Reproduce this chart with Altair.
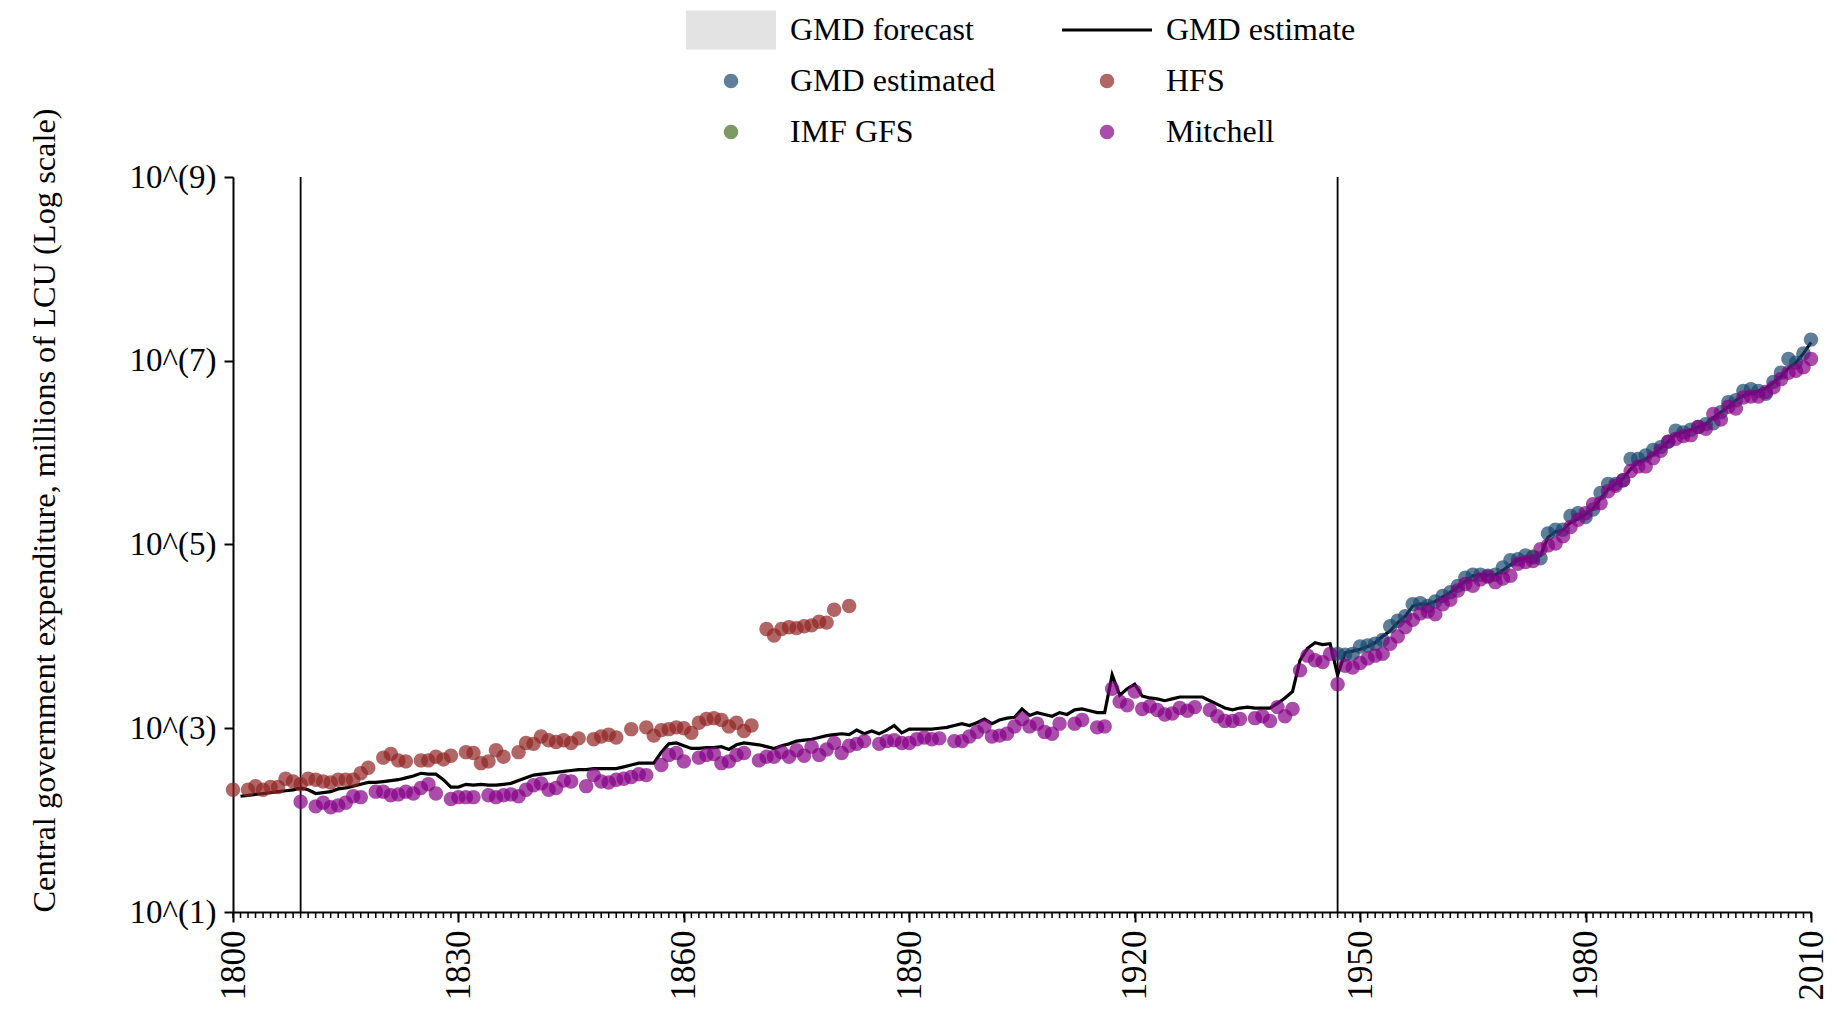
import altair as alt
import pandas as pd

# ---------------- data (log10 of millions of LCU) ----------------
est_years = list(range(1801, 2011))
est_log10 = [
    2.26, 2.27, 2.28, 2.29, 2.30, 2.31, 2.32, 2.33, 2.35, 2.33,   # 1801-1810
    2.29, 2.30, 2.31, 2.34, 2.35, 2.37, 2.39, 2.41, 2.41, 2.42,   # 1811-1820
    2.43, 2.44, 2.46, 2.48, 2.51, 2.50, 2.50, 2.44, 2.36, 2.36,   # 1821-1830
    2.39, 2.38, 2.39, 2.38, 2.38, 2.39, 2.40, 2.43, 2.46, 2.49,   # 1831-1840
    2.50, 2.51, 2.52, 2.53, 2.54, 2.55, 2.55, 2.56, 2.56, 2.56,   # 1841-1850
    2.56, 2.58, 2.60, 2.62, 2.62, 2.62, 2.74, 2.83, 2.84, 2.81,   # 1851-1860
    2.78, 2.78, 2.79, 2.79, 2.80, 2.77, 2.82, 2.84, 2.83, 2.82,   # 1861-1870
    2.80, 2.78, 2.81, 2.83, 2.86, 2.87, 2.88, 2.90, 2.92, 2.93,   # 1871-1880
    2.94, 2.93, 2.98, 2.94, 2.97, 2.94, 2.98, 3.03, 2.95, 2.99,   # 1881-1890
    2.99, 2.99, 2.99, 3.00, 3.01, 3.03, 3.05, 3.03, 3.06, 3.10,   # 1891-1900
    3.05, 3.09, 3.11, 3.12, 3.21, 3.14, 3.17, 3.15, 3.13, 3.17,   # 1901-1910
    3.15, 3.20, 3.21, 3.19, 3.17, 3.17, 3.58, 3.36, 3.43, 3.48,   # 1911-1920
    3.35, 3.33, 3.32, 3.30, 3.32, 3.34, 3.34, 3.34, 3.34, 3.30,   # 1921-1930
    3.26, 3.22, 3.20, 3.22, 3.23, 3.22, 3.22, 3.22, 3.27, 3.33,   # 1931-1940
    3.40, 3.74, 3.87, 3.93, 3.91, 3.92, 3.58, 3.82, 3.84, 3.86,   # 1941-1950
    3.89, 3.93, 4.00, 4.06, 4.15, 4.22, 4.33, 4.35, 4.35, 4.38,   # 1951-1960
    4.43, 4.48, 4.54, 4.60, 4.66, 4.67, 4.67, 4.67, 4.72, 4.78,   # 1961-1970
    4.83, 4.85, 4.86, 4.88, 5.08, 5.14, 5.16, 5.24, 5.28, 5.33,   # 1971-1980
    5.39, 5.50, 5.60, 5.66, 5.72, 5.82, 5.90, 5.93, 5.98, 6.05,   # 1981-1990
    6.12, 6.20, 6.22, 6.25, 6.28, 6.31, 6.38, 6.44, 6.50, 6.57,   # 1991-2000
    6.62, 6.65, 6.67, 6.70, 6.76, 6.83, 6.92, 6.98, 7.08, 7.20,   # 2001-2010
]

hfs_years = [
    1800, 1802, 1803, 1804, 1805, 1806, 1807, 1808, 1809, 1810,
    1811, 1812, 1813, 1814, 1815, 1816, 1817, 1818, 1820, 1821,
    1822, 1823, 1825, 1826, 1827, 1828, 1829, 1831, 1832, 1833,
    1834, 1835, 1836, 1838, 1839, 1840, 1841, 1842, 1843, 1844,
    1845, 1846, 1848, 1849, 1850, 1851, 1853, 1855, 1856, 1857,
    1858, 1859, 1860, 1861, 1862, 1863, 1864, 1865, 1866, 1867,
    1868, 1869,
    1871, 1872, 1873, 1874, 1875, 1876, 1877, 1878, 1879, 1880, 1882,
]
hfs_log10 = [
    2.33, 2.33, 2.37, 2.33, 2.36, 2.36, 2.45, 2.42, 2.39, 2.45,
    2.44, 2.42, 2.41, 2.44, 2.44, 2.44, 2.51, 2.57, 2.68, 2.72,
    2.65, 2.64, 2.65, 2.65, 2.69, 2.66, 2.70, 2.74, 2.73, 2.62,
    2.64, 2.76, 2.69, 2.74, 2.84, 2.83, 2.91, 2.87, 2.85, 2.87,
    2.84, 2.89, 2.88, 2.91, 2.93, 2.90, 2.99, 3.01, 2.92, 2.98,
    2.99, 3.01, 3.00, 2.95, 3.06, 3.10, 3.11, 3.09, 3.02, 3.06,
    2.97, 3.03,
    4.08, 4.01, 4.08, 4.10, 4.09, 4.11, 4.12, 4.16, 4.15, 4.29, 4.33,
]

mitchell_years = [
    1809, 1811, 1812, 1813, 1814, 1815, 1816, 1817, 1819, 1820,
    1821, 1822, 1823, 1824, 1825, 1826, 1827, 1829, 1830, 1831,
    1832, 1834, 1835, 1836, 1837, 1838, 1839, 1840, 1841, 1842,
    1843, 1844, 1845, 1847, 1848, 1849, 1850, 1851, 1852, 1853,
    1854, 1855, 1857, 1858, 1859, 1860, 1862, 1863, 1864, 1865,
    1866, 1867, 1868, 1870, 1871, 1872, 1873, 1874, 1875, 1876,
    1877, 1878, 1879, 1880, 1881, 1882, 1883, 1884, 1886, 1887,
    1888, 1889, 1890, 1891, 1892, 1893, 1894, 1896, 1897, 1898,
    1899, 1900, 1901, 1902, 1903, 1904, 1905, 1906, 1907, 1908,
    1909, 1910, 1912, 1913, 1915, 1916, 1917, 1918, 1919, 1920,
    1921, 1922, 1923, 1924, 1925, 1926, 1927, 1928, 1930, 1931,
    1932, 1933, 1934, 1936, 1937, 1938, 1939, 1940, 1941, 1942,
    1943, 1944, 1945, 1946, 1947, 1948, 1949, 1950,
] + list(range(1951, 2011))
mitchell_log10 = [
    2.20, 2.15, 2.19, 2.14, 2.16, 2.19, 2.26, 2.25, 2.31, 2.31,
    2.27, 2.28, 2.31, 2.29, 2.35, 2.39, 2.29, 2.23, 2.25, 2.25,
    2.25, 2.27, 2.25, 2.27, 2.28, 2.26, 2.33, 2.38, 2.40, 2.33,
    2.35, 2.43, 2.42, 2.37, 2.49, 2.42, 2.41, 2.44, 2.45, 2.47,
    2.50, 2.49, 2.60, 2.71, 2.73, 2.64, 2.68, 2.71, 2.72, 2.62,
    2.64, 2.71, 2.73, 2.65, 2.69, 2.69, 2.74, 2.69, 2.76, 2.70,
    2.80, 2.71, 2.77, 2.84, 2.73, 2.81, 2.83, 2.86, 2.83, 2.86,
    2.87, 2.84, 2.84, 2.88, 2.90, 2.88, 2.89, 2.86, 2.86, 2.91,
    2.96, 3.02, 2.91, 2.92, 2.94, 3.02, 3.10, 3.02, 3.05, 2.96,
    2.94, 3.05, 3.05, 3.09, 3.01, 3.02, 3.43, 3.29, 3.25, 3.40,
    3.21, 3.24, 3.20, 3.15, 3.16, 3.22, 3.19, 3.23, 3.20, 3.13,
    3.08, 3.08, 3.10, 3.11, 3.13, 3.08, 3.23, 3.13, 3.21, 3.63,
    3.79, 3.74, 3.72, 3.81, 3.48, 3.68, 3.66, 3.71,
    3.76, 3.79, 3.81, 3.92, 4.00, 4.10, 4.18, 4.25, 4.27, 4.24,   # 1951-1960
    4.35, 4.40, 4.50, 4.57, 4.55, 4.62, 4.65, 4.59, 4.63, 4.66,   # 1961-1970
    4.79, 4.81, 4.82, 4.95, 4.99, 5.01, 5.09, 5.19, 5.27, 5.34,   # 1971-1980
    5.44, 5.45, 5.58, 5.64, 5.70, 5.80, 5.85, 5.85, 5.94, 6.02,   # 1981-1990
    6.12, 6.15, 6.18, 6.19, 6.28, 6.26, 6.42, 6.36, 6.50, 6.48,   # 1991-2000
    6.60, 6.61, 6.61, 6.66, 6.71, 6.80, 6.87, 6.89, 6.93, 7.02,   # 2001-2010
]

gmd_years = list(range(1947, 2011))
gmd_log10 = [
    3.81, 3.80, 3.81, 3.89, 3.90, 3.92, 3.96, 4.11, 4.17, 4.22,   # 1947-1956
    4.35, 4.36, 4.33, 4.38, 4.44, 4.48, 4.55, 4.64, 4.67, 4.67,   # 1957-1966
    4.66, 4.67, 4.75, 4.83, 4.84, 4.88, 4.86, 4.85, 5.12, 5.16,   # 1967-1976
    5.16, 5.31, 5.34, 5.30, 5.38, 5.56, 5.66, 5.66, 5.70, 5.93,   # 1977-1986
    5.93, 5.97, 6.03, 6.06, 6.12, 6.24, 6.22, 6.25, 6.28, 6.31,   # 1987-1996
    6.32, 6.44, 6.55, 6.57, 6.67, 6.69, 6.67, 6.64, 6.77, 6.87,   # 1997-2006
    7.02, 6.98, 7.08, 7.23,                                       # 2007-2010
]

imf_years = [1973]
imf_log10 = [4.87]

ref_years = [1809, 1947]
x_tick_values = [1800, 1830, 1860, 1890, 1920, 1950, 1980, 2010]
y_tick_values = [1e1, 1e3, 1e5, 1e7, 1e9]
minor_tick_years = list(range(1800, 2011))

# legend entries, in the column-major order the legend fills them
legend_labels = ["GMD forecast", "GMD estimated", "IMF GFS", "GMD estimate", "HFS", "Mitchell"]
legend_colors = [
    "#e3e3e3",
    "rgba(26,71,111,0.7)",
    "rgba(69,112,34,0.7)",
    "#000000",
    "rgba(144,36,36,0.7)",
    "rgba(134,0,134,0.7)",
]
# circle drawn with cubic curves (radius 0.16 of the symbol half-size)
circle_path = (
    "M-0.16,0C-0.16,-0.0884,-0.0884,-0.16,0,-0.16"
    "C0.0884,-0.16,0.16,-0.0884,0.16,0"
    "C0.16,0.0884,0.0884,0.16,0,0.16"
    "C-0.0884,0.16,-0.16,0.0884,-0.16,0Z"
)
legend_shapes = [
    "M-1,-0.433H1V0.433H-1Z",
    circle_path,
    circle_path,
    "M-1,-0.034H1V0.034H-1Z",
    circle_path,
    circle_path,
]

# ---------------- tables ----------------
def frame(years, logs, name):
    return pd.DataFrame({"year": years, "value": [10 ** v for v in logs], "series": name})

line_df = frame(est_years, est_log10, "GMD estimate")
points_df = pd.concat([
    frame(imf_years, imf_log10, "IMF GFS"),
    frame(gmd_years, gmd_log10, "GMD estimated"),
    frame(hfs_years, hfs_log10, "HFS"),
    frame(mitchell_years, mitchell_log10, "Mitchell"),
], ignore_index=True)
ref_df = pd.DataFrame({"year": ref_years})
minor_df = pd.DataFrame({"year": minor_tick_years})

W, H = 1578, 735
FONT = "Liberation Serif"

x_enc = alt.X(
    "year:Q",
    scale=alt.Scale(domain=[1800, 2010], nice=False, zero=False),
    axis=alt.Axis(
        values=x_tick_values, format="d", title=None, labelAngle=270,
        labelFontSize=35, tickSize=10, labelPadding=8, grid=False,
    ),
)
y_scale = alt.Scale(type="log", domain=[1e1, 1e9], nice=False)
y_axis = alt.Axis(
    values=y_tick_values,
    labelExpr="'10^(' + round(log(datum.value) / LN10) + ')'",
    title="Central government expenditure, millions of LCU (Log scale)",
    titleAnchor="start", titleFontSize=32.4, titleFontWeight="normal",
    titlePadding=68, labelFontSize=33, tickSize=9, labelPadding=8, grid=False,
)

leg = alt.Legend(
    title=None, orient="none", legendX=453, legendY=-167, columns=2,
    columnPadding=66, rowPadding=11, clipHeight=40, labelFont=FONT, labelFontSize=32,
    labelOffset=14, labelLimit=500, symbolSize=8100, symbolStrokeWidth=0,
    labelColor="black",
)

minor_ticks = alt.Chart(minor_df).mark_rule(color="black", strokeWidth=1.5).encode(
    x=x_enc, y=alt.value(H), y2=alt.value(H + 6)
)
ref_rules = alt.Chart(ref_df).mark_rule(color="black", strokeWidth=1.8).encode(
    x=x_enc, y=alt.value(0), y2=alt.value(H)
)
line = alt.Chart(line_df).mark_line(color="black", strokeWidth=3.2).encode(
    x=x_enc, y=alt.Y("value:Q", scale=y_scale, axis=y_axis)
)
points = alt.Chart(points_df).mark_point(filled=True, size=8100, strokeWidth=0, opacity=1).encode(
    x=x_enc,
    y=alt.Y("value:Q", scale=y_scale, axis=y_axis),
    color=alt.Color("series:N", scale=alt.Scale(domain=legend_labels, range=legend_colors), legend=leg),
    shape=alt.Shape("series:N", scale=alt.Scale(domain=legend_labels, range=legend_shapes), legend=leg),
)

chart = alt.layer(minor_ticks, ref_rules, line, points).properties(
    width=W, height=H,
    autosize=alt.AutoSizeParams(type="none"),
    padding={"left": 225, "top": 169, "right": 18, "bottom": 96},
).configure(
    font=FONT,
).configure_view(
    stroke=None,
).configure_axis(
    domainColor="black", domainWidth=2, tickColor="black", tickWidth=2,
    labelColor="black", titleColor="black", labelFont=FONT, titleFont=FONT,
)

chart.save("out.html", embed_options={"renderer": "svg", "actions": False})
